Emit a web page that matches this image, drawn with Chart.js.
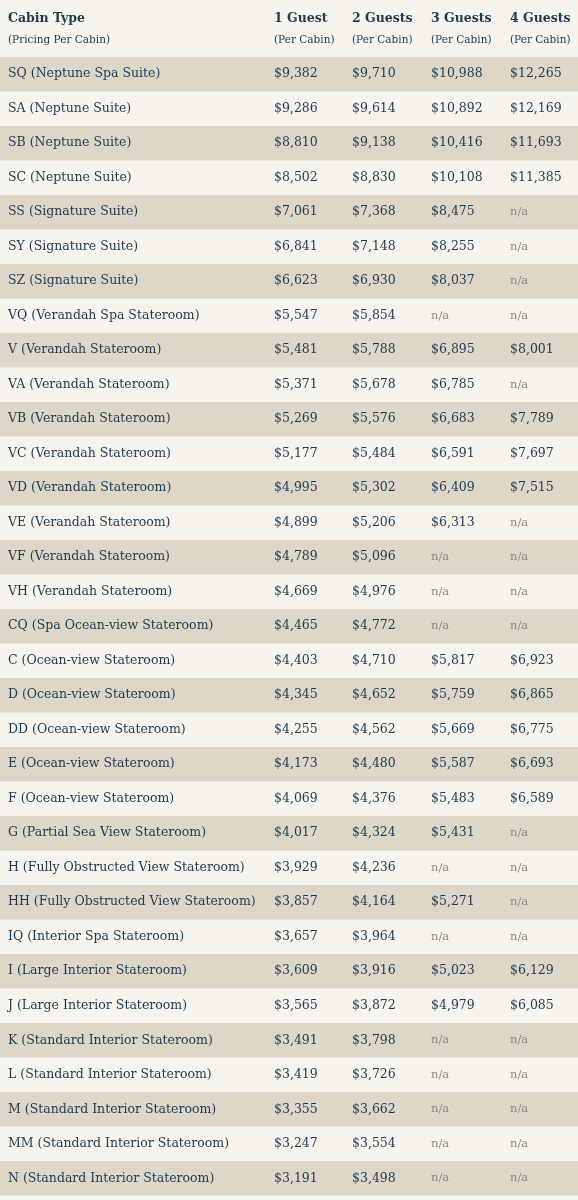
<!DOCTYPE html>
<html>
<head>
<meta charset="utf-8">
<script src="https://cdn.jsdelivr.net/npm/chart.js@4"></script>
<style>
  html, body { margin: 0; padding: 0; background: #f6f4ec; }
  #wrap { width: 578px; height: 1200px; position: relative; }
</style>
</head>
<body>
<div id="wrap"><canvas id="chart"></canvas></div>
<script>
// Cabin types (rows)
const cabins = [
  "SQ (Neptune Spa Suite)", "SA (Neptune Suite)", "SB (Neptune Suite)", "SC (Neptune Suite)",
  "SS (Signature Suite)", "SY (Signature Suite)", "SZ (Signature Suite)",
  "VQ (Verandah Spa Stateroom)", "V (Verandah Stateroom)", "VA (Verandah Stateroom)",
  "VB (Verandah Stateroom)", "VC (Verandah Stateroom)", "VD (Verandah Stateroom)",
  "VE (Verandah Stateroom)", "VF (Verandah Stateroom)", "VH (Verandah Stateroom)",
  "CQ (Spa Ocean-view Stateroom)", "C (Ocean-view Stateroom)", "D (Ocean-view Stateroom)",
  "DD (Ocean-view Stateroom)", "E (Ocean-view Stateroom)", "F (Ocean-view Stateroom)",
  "G (Partial Sea View Stateroom)", "H (Fully Obstructed View Stateroom)",
  "HH (Fully Obstructed View Stateroom)", "IQ (Interior Spa Stateroom)",
  "I (Large Interior Stateroom)", "J (Large Interior Stateroom)",
  "K (Standard Interior Stateroom)", "L (Standard Interior Stateroom)",
  "M (Standard Interior Stateroom)", "MM (Standard Interior Stateroom)",
  "N (Standard Interior Stateroom)"
];

// Prices per cabin (null = n/a)
const guest1 = [9382, 9286, 8810, 8502, 7061, 6841, 6623, 5547, 5481, 5371, 5269, 5177, 4995, 4899, 4789, 4669,
  4465, 4403, 4345, 4255, 4173, 4069, 4017, 3929, 3857, 3657, 3609, 3565, 3491, 3419, 3355, 3247, 3191];
const guest2 = [9710, 9614, 9138, 8830, 7368, 7148, 6930, 5854, 5788, 5678, 5576, 5484, 5302, 5206, 5096, 4976,
  4772, 4710, 4652, 4562, 4480, 4376, 4324, 4236, 4164, 3964, 3916, 3872, 3798, 3726, 3662, 3554, 3498];
const guest3 = [10988, 10892, 10416, 10108, 8475, 8255, 8037, null, 6895, 6785, 6683, 6591, 6409, 6313, null, null,
  null, 5817, 5759, 5669, 5587, 5483, 5431, null, 5271, null, 5023, 4979, null, null, null, null, null];
const guest4 = [12265, 12169, 11693, 11385, null, null, null, null, 8001, null, 7789, 7697, 7515, null, null, null,
  null, 6923, 6865, 6775, 6693, 6589, null, null, null, null, 6129, 6085, null, null, null, null, null];

// Column headers
const headTop = ["Cabin Type", "1 Guest", "2 Guests", "3 Guests", "4 Guests"];
const headSub = ["(Pricing Per Cabin)", "(Per Cabin)", "(Per Cabin)", "(Per Cabin)", "(Per Cabin)"];

const colX = [8, 274, 352, 431, 510];   // left edge of each column (x scale units = px)
const HEADER_ROWS = 1.65;                // header height in row units
const TEXT = "#1f3a4f";
const NA = "#8a8a84";
const BAND = "#ded6c9";
const SERIF = "'DejaVu Serif', 'Liberation Serif', serif";

const fmt = v => v == null ? "n/a" : "$" + v.toLocaleString("en-US");
const columns = [guest1, guest2, guest3, guest4];

const tablePlugin = {
  id: "table",
  beforeDatasetsDraw(chart) {
    const ctx = chart.ctx;
    const xs = chart.scales.x, ys = chart.scales.y;
    ctx.save();
    // banded rows
    cabins.forEach((c, i) => {
      if (i % 2 === 0) {
        const top = ys.getPixelForValue(i), bot = ys.getPixelForValue(i + 1);
        ctx.fillStyle = BAND;
        ctx.fillRect(xs.getPixelForValue(0), top, xs.getPixelForValue(578) - xs.getPixelForValue(0), bot - top);
      }
    });
    ctx.textBaseline = "middle";
    // header
    headTop.forEach((h, j) => {
      ctx.fillStyle = TEXT;
      ctx.font = "bold 12.5px " + SERIF;
      ctx.fillText(h, xs.getPixelForValue(colX[j]), ys.getPixelForValue(-HEADER_ROWS + 0.55));
      ctx.font = "10.5px " + SERIF;
      ctx.fillText(headSub[j], xs.getPixelForValue(colX[j]), ys.getPixelForValue(-HEADER_ROWS + 1.17));
    });
    // body
    cabins.forEach((c, i) => {
      const y = ys.getPixelForValue(i + 0.5);
      ctx.font = "12.5px " + SERIF;
      ctx.fillStyle = TEXT;
      ctx.fillText(c, xs.getPixelForValue(colX[0]), y);
      columns.forEach((col, j) => {
        ctx.fillStyle = col[i] == null ? NA : TEXT;
        ctx.font = (col[i] == null ? "11.5px " : "12.5px ") + SERIF;
        ctx.fillText(fmt(col[i]), xs.getPixelForValue(colX[j + 1]), y);
      });
    });
    ctx.restore();
  }
};

new Chart(document.getElementById("chart"), {
  type: "scatter",
  data: { datasets: [{ data: [] }] },
  options: {
    responsive: true,
    maintainAspectRatio: false,
    animation: false,
    layout: { padding: 0 },
    plugins: { legend: { display: false }, tooltip: { enabled: false } },
    scales: {
      x: { type: "linear", min: 0, max: 578, display: false },
      y: { type: "linear", reverse: true, min: -HEADER_ROWS, max: 33.13, display: false }
    }
  },
  plugins: [tablePlugin]
});
</script>
</body>
</html>
